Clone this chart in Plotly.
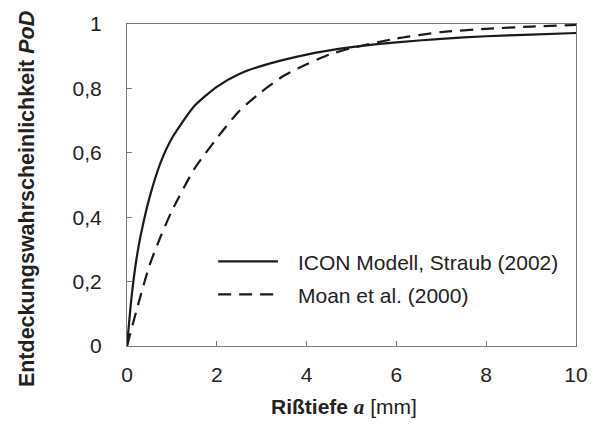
import plotly.graph_objects as go

# ICON Modell, Straub (2002)
icon_x = [0, 0.1, 0.2, 0.3, 0.5, 0.75, 1.0, 1.5, 2.0, 2.5, 3.0, 4.0, 5.0, 6.0, 7.0, 8.0, 9.0, 10.0]
icon_y = [0, 0.15, 0.26, 0.34, 0.46, 0.57, 0.645, 0.745, 0.805, 0.845, 0.87, 0.905, 0.928, 0.943, 0.954, 0.962, 0.967, 0.972]

# Moan et al. (2000)
moan_x = [0, 0.25, 0.5, 0.75, 1.0, 1.5, 2.0, 2.5, 3.0, 3.5, 4.0, 4.5, 5.0, 6.0, 7.0, 8.0, 9.0, 10.0]
moan_y = [0, 0.13, 0.25, 0.34, 0.42, 0.55, 0.645, 0.73, 0.79, 0.84, 0.875, 0.905, 0.925, 0.955, 0.975, 0.985, 0.992, 0.997]

x_ticks = [0, 2, 4, 6, 8, 10]
y_ticks = [0, 0.2, 0.4, 0.6, 0.8, 1]
y_ticktext = ["0", "0,2", "0,4", "0,6", "0,8", "1"]

legend_names = ["ICON Modell, Straub (2002)", "Moan et al. (2000)"]
x_title = "<b>Rißtiefe <span style='font-family:Liberation Serif, Times New Roman, serif'><i>a</i></span></b> [mm]"
y_title = "<b>Entdeckungswahrscheinlichkeit <i>PoD</i></b>"

FONT = "Liberation Sans, Arial, sans-serif"
CURVE = "#1a1a1a"
AXIS = "#7a7a7a"
FS = 21

fig = go.Figure()
fig.add_trace(go.Scatter(x=icon_x, y=icon_y, mode="lines", name=legend_names[0],
                         line=dict(color=CURVE, width=2.2, shape="spline", smoothing=0.6),
                         showlegend=False))
fig.add_trace(go.Scatter(x=moan_x, y=moan_y, mode="lines", name=legend_names[1],
                         line=dict(color=CURVE, width=2.2, dash="13px,8px", shape="spline", smoothing=0.6),
                         showlegend=False))

L, R, T, B = 127, 585, 15, 346
W, H = R - L, B - T
def px(xp):
    return (xp - L) / W
def py(yp):
    return (B - yp) / H

# manual legend (line samples + labels)
for i, (name, dash) in enumerate(zip(legend_names, ["solid", "13px,8px"])):
    yy = [259, 293][i]
    fig.add_shape(type="line", xref="paper", yref="paper",
                  x0=px(220), x1=px(281), y0=py(yy), y1=py(yy),
                  line=dict(color=CURVE, width=2.2, dash=dash))
    fig.add_annotation(xref="paper", yref="paper", x=px(299), y=py(yy + 1),
                       text=name, showarrow=False, xanchor="left", yanchor="middle",
                       font=dict(family=FONT, size=FS, color="#222"))

# axis titles
fig.add_annotation(xref="paper", yref="paper", x=px(348), y=py(409), text=x_title,
                   showarrow=False, xanchor="center", yanchor="middle",
                   font=dict(family=FONT, size=FS, color="#222"))
fig.add_annotation(xref="paper", yref="paper", x=px(25), y=py(195), text=y_title,
                   showarrow=False, xanchor="center", yanchor="middle", textangle=-90,
                   font=dict(family=FONT, size=21.5, color="#222"))

fig.update_layout(
    width=600, height=434,
    margin=dict(l=L, r=600 - R, t=T, b=434 - B),
    paper_bgcolor="white", plot_bgcolor="white",
    font=dict(family=FONT, size=FS, color="#222"),
    xaxis=dict(range=[0, 10], tickvals=x_ticks, ticks="inside", ticklen=5, tickcolor=AXIS,
               showline=True, linecolor=AXIS, linewidth=1, mirror=True, showgrid=False,
               zeroline=False, ticklabelstandoff=10),
    yaxis=dict(range=[0, 1], tickvals=y_ticks, ticktext=y_ticktext, ticks="inside", ticklen=5,
               tickcolor=AXIS, showline=True, linecolor=AXIS, linewidth=1, mirror=True,
               showgrid=False, zeroline=False, ticklabelstandoff=20),
)

fig.write_html("out.html")
